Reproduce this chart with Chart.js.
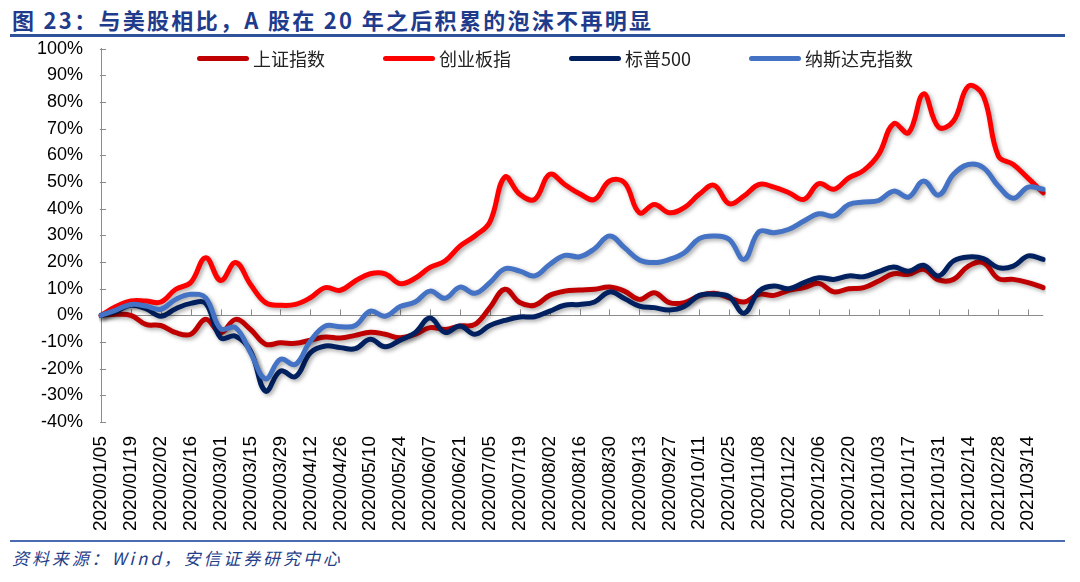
<!DOCTYPE html>
<html>
<head>
<meta charset="utf-8">
<script src="https://cdn.jsdelivr.net/npm/chart.js@4.4.1/dist/chart.umd.min.js"></script>
<style>
  body { margin: 0; background: #fff; }
  #wrap { position: relative; width: 1080px; height: 582px; overflow: hidden; font-family: "Noto Sans CJK SC", sans-serif; }
  #title { position: absolute; left: 12px; top: 3px; font-size: 22px; font-weight: bold; color: #1f3b8c; letter-spacing: 2.3px; white-space: nowrap; }
  #topRule { position: absolute; left: 10px; top: 34px; width: 1055px; height: 3px; background: #2f539b; }
  #chartBox { position: absolute; left: 0; top: 20px; width: 1080px; height: 520px; }
  #legend { position: absolute; left: 197px; top: 45px; display: flex; align-items: center; font-size: 18px; color: #222; white-space: nowrap; }
  #legend .item { display: flex; align-items: center; margin-right: 58px; }
  #legend .swatch { width: 52px; height: 5px; border-radius: 3px; margin-right: 4px; }
  #bottomRule { position: absolute; left: 10px; top: 540px; width: 1055px; height: 2px; background: #4a6bb0; }
  #source { position: absolute; left: 12px; top: 545px; font-size: 17px; font-style: italic; color: #1f3f8a; letter-spacing: 2.9px; white-space: nowrap; }
</style>
</head>
<body>
<div id="wrap">
  <div id="title">图 23：与美股相比，A 股在 20 年之后积累的泡沫不再明显</div>
  <div id="topRule"></div>
  <div id="chartBox"><canvas id="chart"></canvas></div>
  <div id="legend"></div>
  <div id="bottomRule"></div>
  <div id="source">资料来源：Wind，安信证券研究中心</div>
</div>
<script>
// weekly dates, labels shown every other week
const dates = [
  '2020/01/05','2020/01/12','2020/01/19','2020/01/26','2020/02/02','2020/02/09','2020/02/16','2020/02/23',
  '2020/03/01','2020/03/08','2020/03/15','2020/03/22','2020/03/29','2020/04/05','2020/04/12','2020/04/19',
  '2020/04/26','2020/05/03','2020/05/10','2020/05/17','2020/05/24','2020/05/31','2020/06/07','2020/06/14',
  '2020/06/21','2020/06/28','2020/07/05','2020/07/12','2020/07/19','2020/07/26','2020/08/02','2020/08/09',
  '2020/08/16','2020/08/23','2020/08/30','2020/09/06','2020/09/13','2020/09/20','2020/09/27','2020/10/04',
  '2020/10/11','2020/10/18','2020/10/25','2020/11/01','2020/11/08','2020/11/15','2020/11/22','2020/11/29',
  '2020/12/06','2020/12/13','2020/12/20','2020/12/27','2021/01/03','2021/01/10','2021/01/17','2021/01/24',
  '2021/01/31','2021/02/07','2021/02/14','2021/02/21','2021/02/28','2021/03/07','2021/03/14','2021/03/21'
];

// cumulative change, %
const shanghai = [
  0, 0.4, 0, -3.4, -3.8, -6.5, -7.1, -1.5, -6.5, -1.5, -5.3, -10.8, -10.3, -10.5, -9.3, -8.1,
  -8.5, -7.5, -6.3, -7.1, -8.4, -7.1, -4.6, -5.3, -4, -3.4, 2.9, 9.8, 4.8, 3.8, 7.5, 9.1,
  9.5, 9.8, 10.6, 9.1, 6, 8.5, 4.8, 4.8, 7.3, 8.3, 6.6, 5, 7.9, 7.5, 9.4, 10.4,
  12, 8.8, 10, 10.4, 12.9, 15.6, 15.4, 17.3, 13.3, 13.5, 18.5, 19.8, 13.8, 13.5, 12.3, 10.4
];
const chinext = [
  0, 3.3, 5.4, 5.4, 5, 9.8, 12.3, 21.6, 13.1, 19.8, 11.6, 4.8, 3.8, 4.1, 6.6, 10.4,
  9.4, 12.9, 15.6, 15.6, 11.9, 13.9, 18, 20.4, 26, 29.8, 35, 51.9, 45.4, 43.5, 52.9, 49.1,
  45.6, 43.5, 50.4, 49.8, 38.5, 41.6, 38.5, 40.4, 45.4, 48.8, 41.9, 44.8, 49.1, 48.1, 46, 43.5,
  49.4, 47.3, 51.6, 54.4, 60.4, 71.9, 68.5, 83.1, 70.6, 72.9, 86, 82.3, 59.8, 56.6, 51.4, 46
];
const sp500 = [
  0, 1.5, 3.8, 2.5, -0.3, 2.5, 4.5, 4.5, -8.4, -7.8, -13.4, -28.4, -20.9, -23, -14, -11.5,
  -12.1, -12.5, -9, -11.8, -9.3, -6.5, -1, -6.4, -4, -7.1, -3.8, -1.9, -0.6, -0.5, 1.6, 3.8,
  4.1, 5, 8.8, 6.3, 3.5, 2.9, 2, 3.3, 7.5, 7.9, 7, 0.8, 9.1, 11, 10, 12.3,
  14.1, 13.5, 14.8, 14.5, 16.4, 18.1, 16.6, 18.8, 14.8, 20.4, 21.9, 21.3, 17.9, 18.5, 22.3, 21
];
const nasdaq = [
  0, 2, 4.1, 3.5, 2.3, 6, 7.9, 6.6, -5, -4.6, -14, -23.8, -16.5, -18.4, -9.6, -4,
  -4.3, -3.8, 1.6, -0.3, 3.3, 5, 9.1, 6.4, 10.6, 8.3, 12.3, 17.5, 16.6, 14.8, 19.1, 22.5,
  22, 25, 29.8, 25.4, 20.8, 19.8, 21, 23.5, 28.8, 29.8, 28.5, 21, 31.4, 31, 32.3, 35.4,
  38.1, 37.3, 41.6, 42.5, 43.1, 46.6, 44.4, 50.4, 45.1, 52.9, 56.6, 55.4, 48.5, 43.9, 48.1, 47.3
];

const seriesNames = ['上证指数', '创业板指', '标普500', '纳斯达克指数'];
const seriesColors = ['#C00000', '#FF0000', '#002060', '#4472C4'];
const yTicks = { min: -40, max: 100, step: 10 };

const axisGray = '#8c8c8c';

// inside tick marks + soft drop shadow under the lines
const decor = {
  id: 'decor',
  beforeDatasetsDraw(chart) {
    const { ctx, scales: { x, y } } = chart;
    const y0 = y.getPixelForValue(0);
    ctx.save();
    ctx.strokeStyle = axisGray;
    ctx.lineWidth = 1;
    ctx.beginPath();
    dates.forEach((d, i) => {
      if (i % 2 !== 0 || i === 0) return;
      const px = Math.round(x.getPixelForValue(i)) + 0.5;
      ctx.moveTo(px, y0);
      ctx.lineTo(px, y0 - 6);
    });
    y.ticks.forEach(t => {
      const py = Math.round(y.getPixelForValue(t.value)) + 0.5;
      ctx.moveTo(y.right - 1, py);
      ctx.lineTo(y.right + 5, py);
    });
    ctx.stroke();
    ctx.restore();

    ctx.save();
    ctx.shadowColor = 'rgba(0,0,0,0.35)';
    ctx.shadowBlur = 4;
    ctx.shadowOffsetX = 2;
    ctx.shadowOffsetY = 2;
  },
  afterDatasetsDraw(chart) {
    chart.ctx.restore();
  }
};

const allSeries = [shanghai, chinext, sp500, nasdaq];

const chart = new Chart(document.getElementById('chart'), {
  type: 'line',
  data: {
    labels: dates,
    datasets: allSeries.map((vals, k) => ({
      label: seriesNames[k],
      data: vals,
      borderColor: seriesColors[k],
      backgroundColor: seriesColors[k],
      borderWidth: 5,
      pointRadius: 0,
      tension: 0.4,
      fill: false,
      borderCapStyle: 'round',
      borderJoinStyle: 'round',
      order: allSeries.length - k   // later series on top, like excel
    }))
  },
  options: {
    responsive: true,
    maintainAspectRatio: false,
    animation: false,
    devicePixelRatio: 1,
    layout: { padding: { left: 0, right: 28, top: 8, bottom: 0 } },
    plugins: {
      legend: { display: false },
      tooltip: { enabled: false }
    },
    scales: {
      x: {
        grid: { display: false, drawTicks: false },
        border: { display: false },
        ticks: {
          autoSkip: false,
          maxRotation: 90,
          minRotation: 90,
          padding: 14,
          color: '#000',
          font: { family: "'Liberation Sans', Arial, sans-serif", size: 19 },
          callback: function(value, index) { return index % 2 === 0 ? dates[index] : ''; }
        },
        afterFit: function(scale) { scale.height = 118; }
      },
      y: {
        min: yTicks.min,
        max: yTicks.max,
        grid: {
          color: ctx => (ctx.tick && ctx.tick.value === 0 ? axisGray : 'transparent'),
          drawTicks: false,
          lineWidth: 1
        },
        border: { display: true, color: axisGray, width: 1 },
        ticks: {
          stepSize: yTicks.step,
          padding: 18,
          color: '#000',
          font: { family: "'Liberation Sans', Arial, sans-serif", size: 18 },
          callback: v => v + '%'
        },
        afterFit: function(scale) { scale.width = 101; }
      }
    }
  },
  plugins: [decor]
});

// legend built from the chart's own datasets
const legendEl = document.getElementById('legend');
chart.data.datasets.forEach(ds => {
  const item = document.createElement('div');
  item.className = 'item';
  item.innerHTML = `<span class="swatch" style="background:${ds.borderColor}"></span><span>${ds.label}</span>`;
  legendEl.appendChild(item);
});
</script>
</body>
</html>
